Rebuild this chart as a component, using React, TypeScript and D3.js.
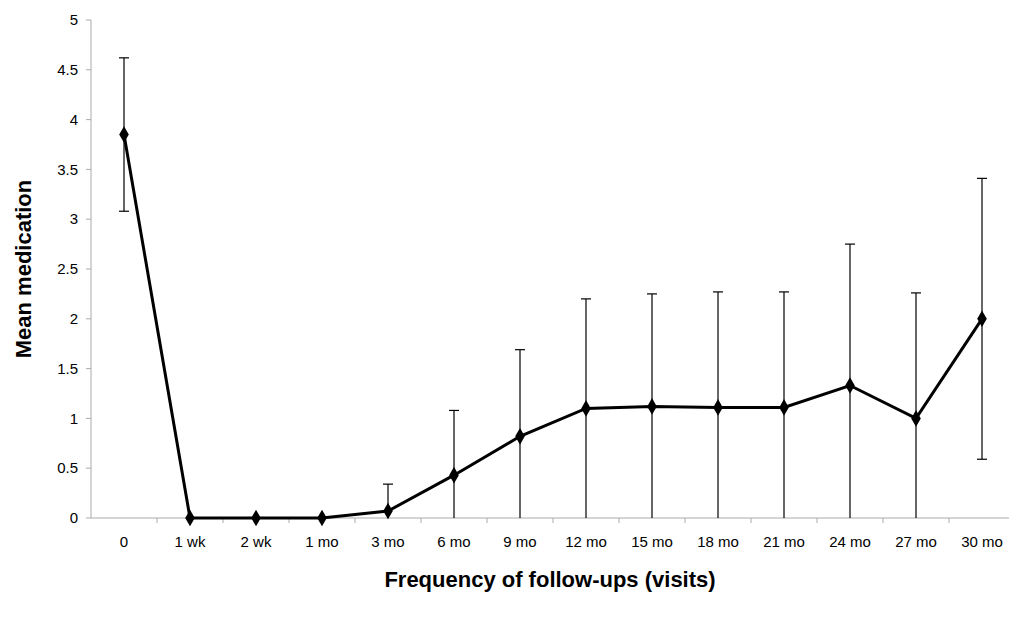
import React from "react";
import * as d3 from "d3";

const categories = ["0","1 wk","2 wk","1 mo","3 mo","6 mo","9 mo","12 mo","15 mo","18 mo","21 mo","24 mo","27 mo","30 mo"];
const means = [3.85,0,0,0,0.07,0.43,0.82,1.1,1.12,1.11,1.11,1.33,1.0,2.0];
const errors = [0.77,0,0,0,0.27,0.65,0.87,1.1,1.13,1.16,1.16,1.42,1.26,1.41];
const yTicks = [0,0.5,1,1.5,2,2.5,3,3.5,4,4.5,5];

export default function App() {
  const x = d3.scaleBand<string>().domain(categories).range([91, 91 + 14 * 66]);
  const y = d3.scaleLinear().domain([0, 5]).range([518, 20]);
  const cx = (i: number) => x(categories[i])! + x.bandwidth() / 2;
  const line = d3.line<number>().x((_, i) => cx(i)).y(d => y(d));
  const font = "Liberation Sans, Arial, sans-serif";
  return (
    <svg width={1009} height={618} style={{ position: "absolute", left: 0, top: 0, background: "#fff" }}>
      <line x1={91} x2={91} y1={y(5)} y2={y(0)} stroke="#aaa" />
      <line x1={91} x2={1009} y1={y(0)} y2={y(0)} stroke="#aaa" />
      {yTicks.map(t => (
        <g key={t}>
          <line x1={86} x2={91} y1={y(t)} y2={y(t)} stroke="#aaa" />
          <text x={78} y={y(t)} dy="0.35em" textAnchor="end" fontFamily={font} fontSize={15}>{t}</text>
        </g>
      ))}
      {categories.map((c, i) => (
        <g key={c}>
          <line x1={x(c)! + x.bandwidth()} x2={x(c)! + x.bandwidth()} y1={y(0)} y2={y(0) + 5} stroke="#aaa" />
          <text x={cx(i)} y={547} textAnchor="middle" fontFamily={font} fontSize={15}>{c}</text>
        </g>
      ))}
      {means.map((m, i) => errors[i] > 0 && (
        <g key={i} stroke="#000" strokeWidth={1.2}>
          <line x1={cx(i)} x2={cx(i)} y1={y(Math.max(0, m - errors[i]))} y2={y(m + errors[i])} />
          <line x1={cx(i) - 5} x2={cx(i) + 5} y1={y(m + errors[i])} y2={y(m + errors[i])} />
          {m - errors[i] > 0 && <line x1={cx(i) - 5} x2={cx(i) + 5} y1={y(m - errors[i])} y2={y(m - errors[i])} />}
        </g>
      ))}
      <path d={line(means)!} fill="none" stroke="#000" strokeWidth={3} />
      {means.map((m, i) => (
        <path key={i} d={d3.symbol(d3.symbolDiamond, 80)()!} transform={`translate(${cx(i)},${y(m)})`} fill="#000" />
      ))}
      <text x={550} y={587} textAnchor="middle" fontFamily={font} fontSize={22} fontWeight="bold">Frequency of follow-ups (visits)</text>
      <text transform={`translate(31,${y(2.5)}) rotate(-90)`} textAnchor="middle" fontFamily={font} fontSize={22} fontWeight="bold">Mean medication</text>
    </svg>
  );
}
